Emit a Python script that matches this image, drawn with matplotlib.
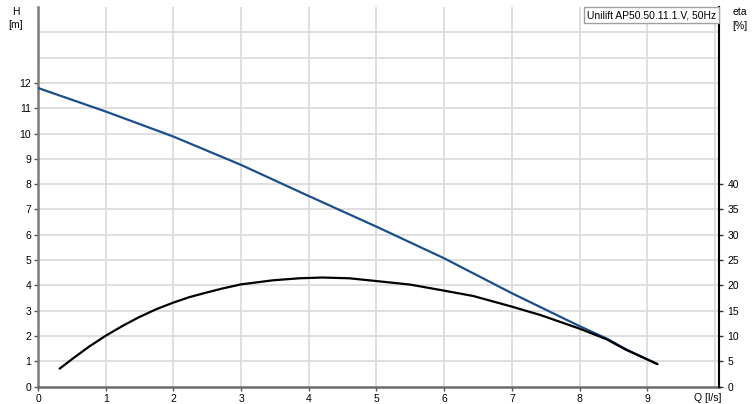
import matplotlib
matplotlib.use("Agg")
import matplotlib.pyplot as plt

plt.rcParams['font.family'] = ['Liberation Sans', 'DejaVu Sans']

# Pump curve H [m] vs Q [l/s]
q_h = [0, 1, 2, 3, 4, 5, 6, 7, 8, 8.4, 8.69, 9.15]
h = [11.8, 10.87, 9.88, 8.76, 7.53, 6.32, 5.07, 3.69, 2.39, 1.9, 1.47, 0.89]

# Efficiency eta [%] vs Q [l/s]
q_eta = [0.32, 0.51, 0.755, 1, 1.25, 1.49, 1.74, 2, 2.23, 2.48, 2.73, 3, 3.47, 3.86,
         4.2, 4.6, 5, 5.5, 5.94, 6.43, 7, 7.42, 8, 8.4, 8.69, 9.15]
eta = [3.55, 5.5, 7.9, 10.05, 12.0, 13.7, 15.25, 16.6, 17.65, 18.55, 19.4, 20.2, 21.0, 21.4,
       21.55, 21.4, 20.85, 20.15, 19.1, 17.9, 15.8, 14.15, 11.45, 9.35, 7.25, 4.45]

x_ticks = list(range(0, 10))
h_ticks = list(range(0, 13))
eta_ticks = list(range(0, 45, 5))
legend_text = "Unilift AP50.50.11.1.V, 50Hz"

fig = plt.figure(figsize=(7.56, 4.04), dpi=100)
ax = fig.add_axes([38/756, 1-386.6/404, (719-38)/756, (386.6-7)/404])
ax.set_xlim(0, 10.06)
ax.set_ylim(0, 15)

grid_c = '#dcdcdc'
for xv in range(1, 11):
    ax.axvline(xv, color=grid_c, lw=1.3, zorder=0)
for yv in range(1, 15):
    ax.axhline(yv, color=grid_c, lw=1.3, zorder=0)

ax.plot(q_h, h, color='#1b4f8c', lw=1.6, zorder=3, solid_capstyle='round', solid_joinstyle='round')

ax2 = ax.twinx()
ax2.set_ylim(0, 75)
ax2.plot(q_eta, eta, color='black', lw=1.6, zorder=3, solid_capstyle='round', solid_joinstyle='round')

for a in (ax, ax2):
    a.spines['top'].set_visible(False)
ax.spines['left'].set_color('#7a7a7a')
ax.spines['left'].set_linewidth(1.8)
ax.spines['bottom'].set_color('#6a6a6a')
ax.spines['bottom'].set_linewidth(1.8)
ax.spines['right'].set_visible(False)
ax2.spines['left'].set_visible(False)
ax2.spines['bottom'].set_visible(False)
ax2.spines['right'].set_color('black')
ax2.spines['right'].set_linewidth(1.5)

ax.set_xticks(x_ticks)
ax.set_yticks(h_ticks)
ax2.set_yticks(eta_ticks)
ax.tick_params(axis='both', labelsize=7.5, length=3, width=1, color='#555555', pad=2)
ax2.tick_params(axis='y', labelsize=7.5, length=3, width=1, color='#333333', pad=3)

fig.text(16/756, 1-12/404, "H", fontsize=7.5, ha='center', va='center')
fig.text(16/756, 1-25/404, "[m]", fontsize=7.5, ha='center', va='center')
fig.text(740/756, 1-12/404, "eta", fontsize=7.5, ha='center', va='center')
fig.text(740/756, 1-26/404, "[%]", fontsize=7.5, ha='center', va='center')
fig.text(708/756, 1-398/404, "Q [l/s]", fontsize=7.5, ha='center', va='center')

fig.text(716/756, 1-15/404, legend_text, fontsize=7.5, ha='right', va='center',
         bbox=dict(boxstyle='square,pad=0.3', fc='white', ec='#a0a0a0', lw=1))

fig.savefig("out.png", dpi=100)
